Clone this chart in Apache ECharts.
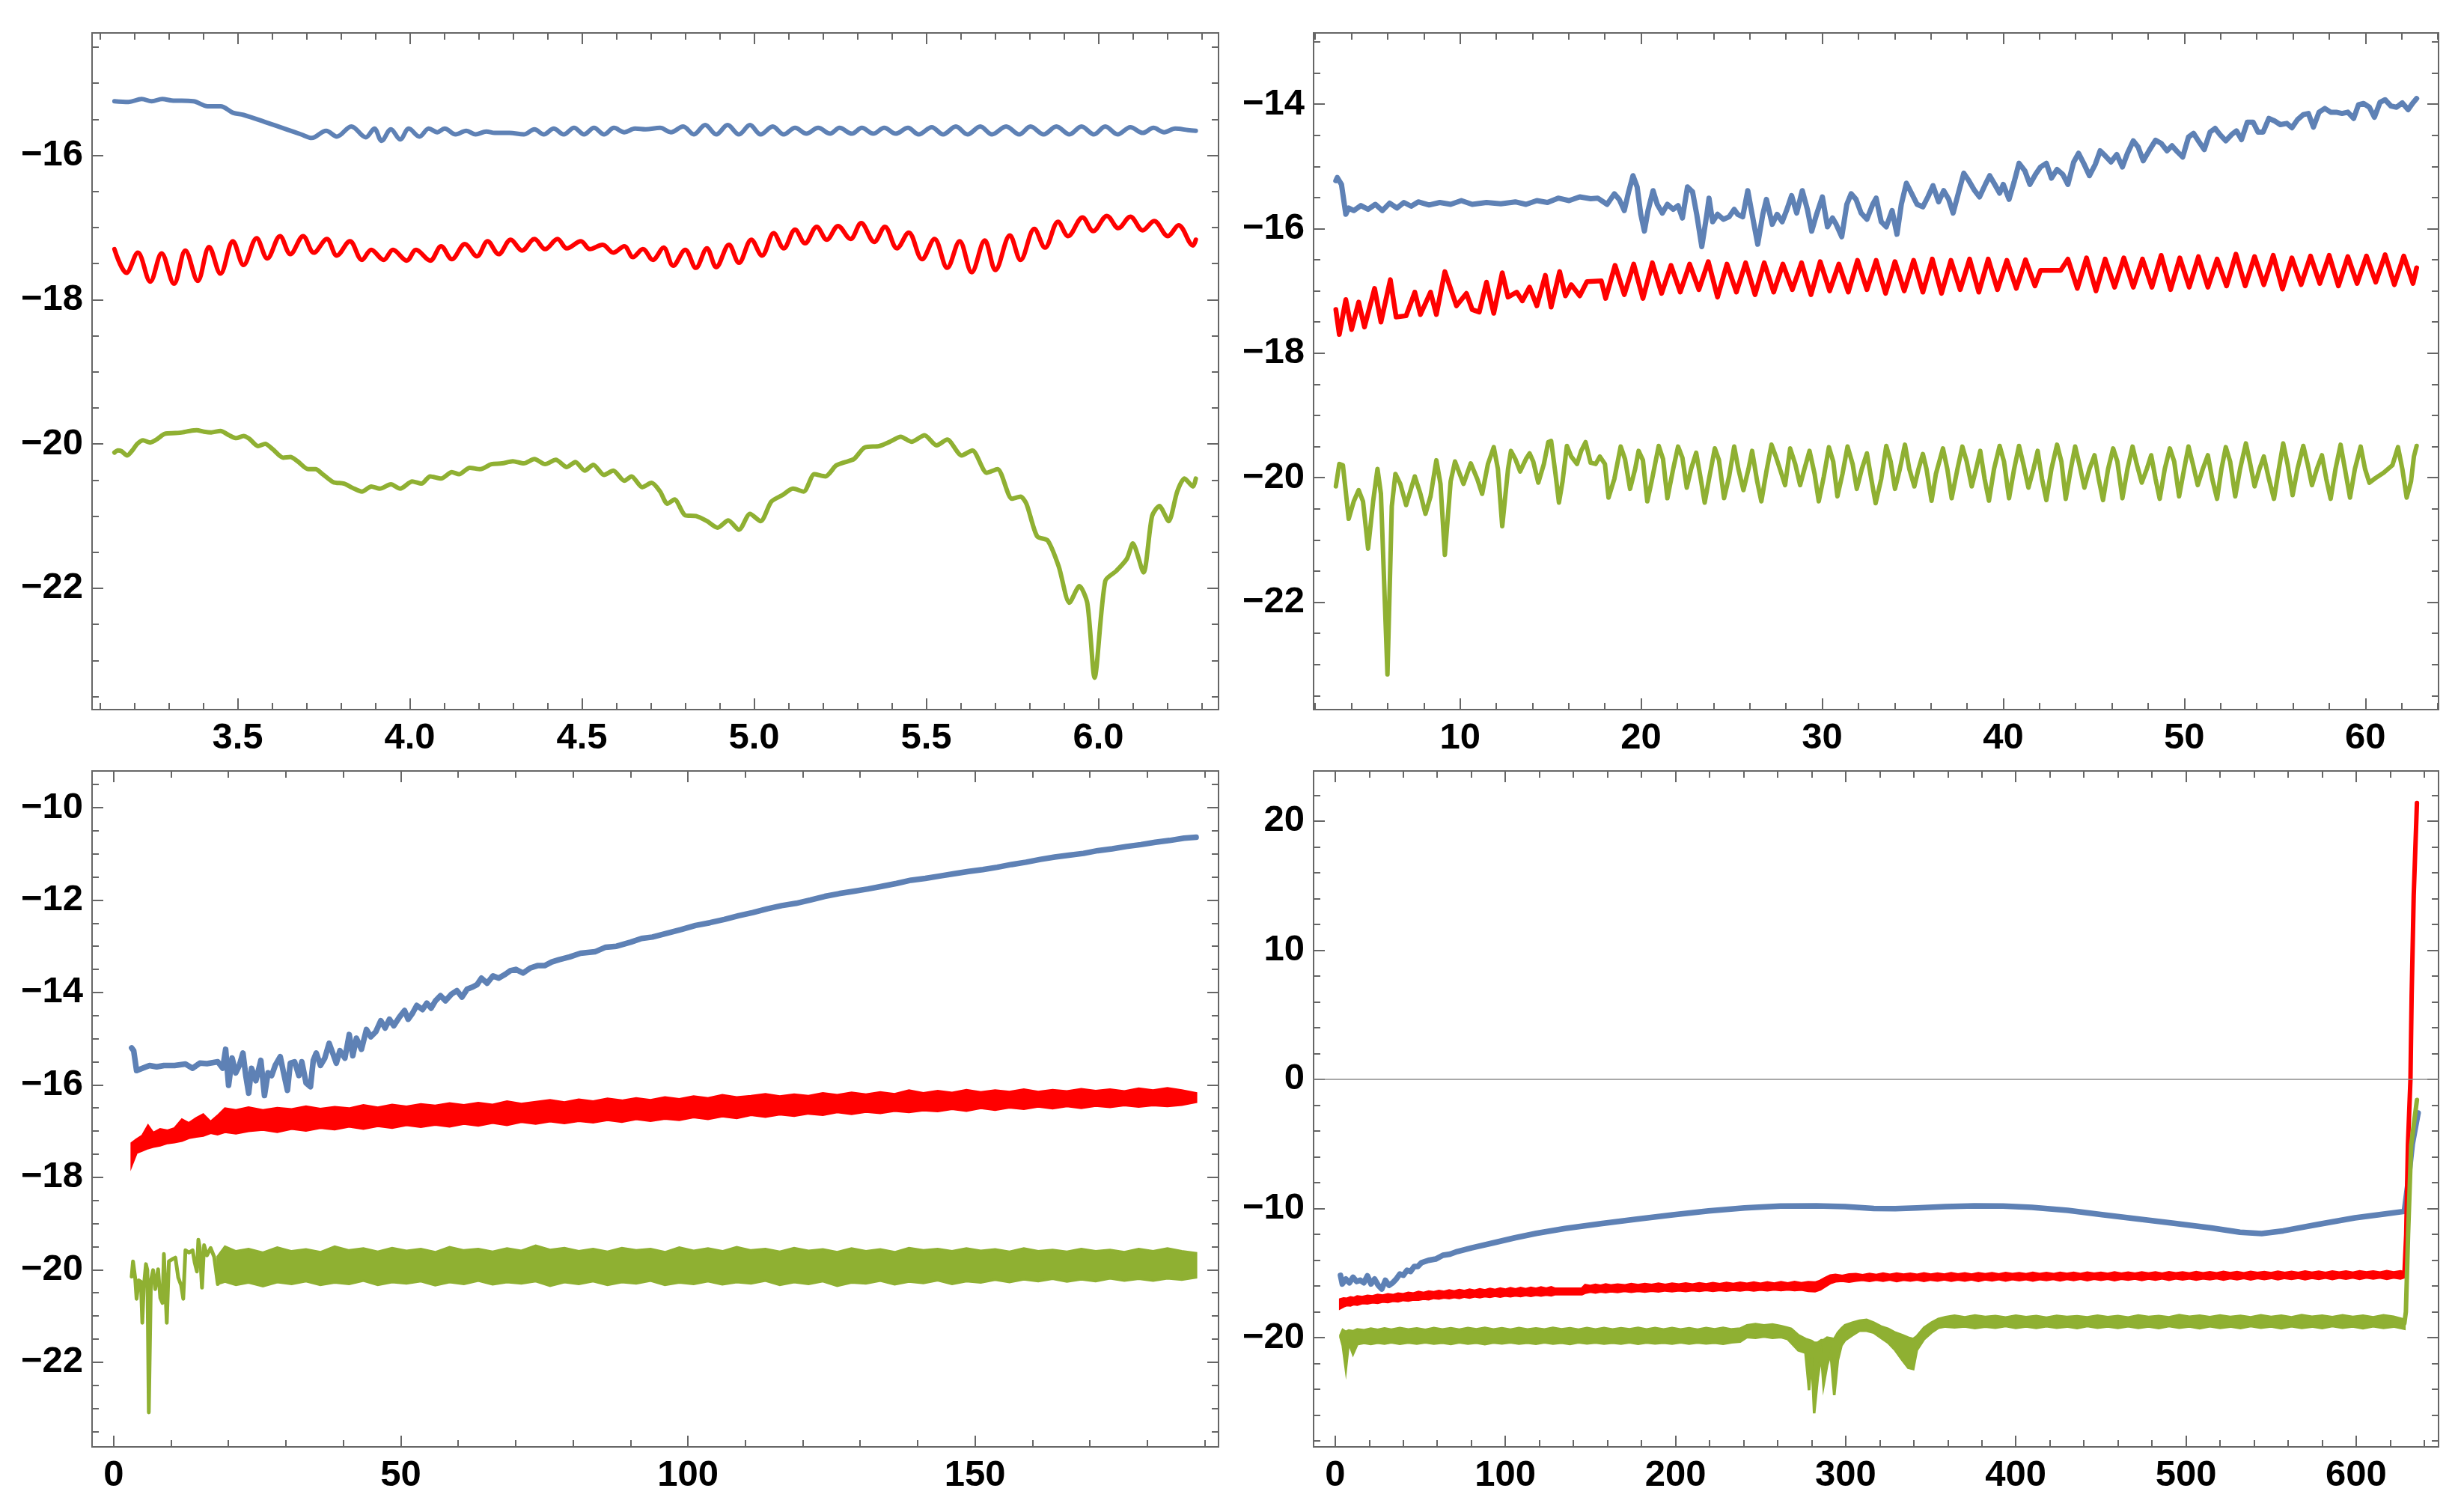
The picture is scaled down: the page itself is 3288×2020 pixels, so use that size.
<!DOCTYPE html>
<html><head><meta charset="utf-8">
<script src="https://cdn.jsdelivr.net/npm/echarts@6/dist/echarts.min.js"></script>
<style>html,body{margin:0;padding:0;background:#fff}#c{width:3288px;height:2020px}</style>
</head><body><div id="c"></div><script>
// ---------- tick labels ----------
const tlXTicks = [3.5, 4.0, 4.5, 5.0, 5.5, 6.0];
const tlYTicks = [-22, -20, -18, -16];
const trXTicks = [10, 20, 30, 40, 50, 60];
const trYTicks = [-22, -20, -18, -16, -14];
const blXTicks = [0, 50, 100, 150];
const blYTicks = [-22, -20, -18, -16, -14, -12, -10];
const brXTicks = [0, 100, 200, 300, 400, 500, 600];
const brYTicks = [-20, -10, 0, 10, 20];

// ---------- top-left panel ----------
const tlBlue = [[3.142,-15.25],[3.183,-15.26],[3.221,-15.22],[3.250,-15.25],[3.281,-15.22],[3.308,-15.24],[3.371,-15.25],[3.413,-15.32],[3.450,-15.32],[3.486,-15.41],[3.517,-15.44],[3.580,-15.54],[3.642,-15.64],[3.684,-15.71],[3.715,-15.76],[3.757,-15.66],[3.788,-15.74],[3.830,-15.60],[3.872,-15.75],[3.897,-15.63],[3.918,-15.80],[3.945,-15.64],[3.972,-15.78],[3.997,-15.63],[4.028,-15.74],[4.055,-15.63],[4.080,-15.68],[4.101,-15.63],[4.133,-15.71],[4.164,-15.66],[4.191,-15.71],[4.222,-15.67],[4.247,-15.69],[4.289,-15.69],[4.331,-15.71],[4.362,-15.64],[4.389,-15.71],[4.418,-15.63],[4.447,-15.71],[4.477,-15.62],[4.506,-15.71],[4.535,-15.62],[4.564,-15.71],[4.593,-15.62],[4.623,-15.68],[4.654,-15.63],[4.685,-15.64],[4.727,-15.62],[4.758,-15.68],[4.794,-15.60],[4.825,-15.71],[4.858,-15.58],[4.890,-15.71],[4.923,-15.58],[4.956,-15.71],[4.988,-15.58],[5.019,-15.71],[5.054,-15.60],[5.086,-15.71],[5.119,-15.62],[5.152,-15.70],[5.186,-15.62],[5.221,-15.70],[5.248,-15.62],[5.284,-15.70],[5.313,-15.62],[5.346,-15.70],[5.378,-15.62],[5.411,-15.70],[5.447,-15.62],[5.478,-15.71],[5.516,-15.61],[5.549,-15.71],[5.586,-15.60],[5.620,-15.71],[5.657,-15.60],[5.691,-15.71],[5.732,-15.60],[5.770,-15.71],[5.803,-15.60],[5.841,-15.71],[5.878,-15.60],[5.916,-15.71],[5.951,-15.60],[5.987,-15.71],[6.020,-15.60],[6.056,-15.71],[6.093,-15.61],[6.129,-15.69],[6.160,-15.62],[6.191,-15.68],[6.223,-15.63],[6.260,-15.65],[6.283,-15.66]];
const tlRed = [[3.142,-17.30],[3.177,-17.63],[3.210,-17.35],[3.246,-17.75],[3.279,-17.36],[3.315,-17.78],[3.348,-17.32],[3.384,-17.74],[3.417,-17.27],[3.450,-17.64],[3.486,-17.19],[3.517,-17.52],[3.555,-17.15],[3.586,-17.43],[3.623,-17.12],[3.653,-17.37],[3.690,-17.12],[3.721,-17.35],[3.759,-17.16],[3.788,-17.39],[3.826,-17.19],[3.861,-17.45],[3.888,-17.31],[3.924,-17.45],[3.951,-17.31],[3.991,-17.46],[4.018,-17.31],[4.059,-17.46],[4.091,-17.26],[4.122,-17.44],[4.160,-17.23],[4.195,-17.40],[4.226,-17.19],[4.258,-17.37],[4.293,-17.17],[4.326,-17.32],[4.362,-17.16],[4.393,-17.30],[4.429,-17.16],[4.456,-17.29],[4.497,-17.19],[4.523,-17.30],[4.560,-17.24],[4.591,-17.35],[4.623,-17.26],[4.648,-17.41],[4.677,-17.30],[4.706,-17.45],[4.737,-17.28],[4.765,-17.53],[4.800,-17.31],[4.831,-17.56],[4.863,-17.29],[4.890,-17.55],[4.927,-17.24],[4.956,-17.49],[4.992,-17.17],[5.023,-17.39],[5.057,-17.08],[5.086,-17.29],[5.119,-17.03],[5.148,-17.22],[5.182,-16.99],[5.211,-17.17],[5.244,-16.98],[5.280,-17.16],[5.311,-16.94],[5.349,-17.20],[5.380,-16.99],[5.415,-17.29],[5.449,-17.07],[5.488,-17.44],[5.524,-17.16],[5.561,-17.56],[5.597,-17.19],[5.632,-17.62],[5.670,-17.18],[5.701,-17.59],[5.743,-17.11],[5.774,-17.45],[5.814,-17.02],[5.845,-17.28],[5.883,-16.92],[5.912,-17.12],[5.954,-16.86],[5.985,-17.05],[6.025,-16.84],[6.058,-17.01],[6.093,-16.85],[6.129,-17.04],[6.162,-16.91],[6.202,-17.12],[6.233,-16.97],[6.275,-17.25],[6.283,-17.17]];
const tlGreen = [[3.142,-20.12],[3.152,-20.09],[3.162,-20.10],[3.179,-20.16],[3.194,-20.09],[3.208,-20.00],[3.225,-19.95],[3.246,-19.98],[3.267,-19.93],[3.288,-19.86],[3.319,-19.85],[3.340,-19.84],[3.361,-19.82],[3.381,-19.81],[3.402,-19.83],[3.423,-19.84],[3.450,-19.82],[3.475,-19.88],[3.496,-19.92],[3.517,-19.89],[3.534,-19.93],[3.559,-20.03],[3.580,-20.00],[3.601,-20.07],[3.632,-20.19],[3.653,-20.18],[3.674,-20.24],[3.705,-20.35],[3.726,-20.35],[3.747,-20.42],[3.778,-20.53],[3.809,-20.55],[3.834,-20.61],[3.861,-20.66],[3.888,-20.59],[3.913,-20.62],[3.945,-20.56],[3.972,-20.62],[4.007,-20.52],[4.034,-20.55],[4.059,-20.45],[4.091,-20.48],[4.122,-20.39],[4.143,-20.42],[4.174,-20.33],[4.205,-20.35],[4.237,-20.28],[4.268,-20.27],[4.299,-20.24],[4.331,-20.27],[4.362,-20.21],[4.393,-20.28],[4.424,-20.22],[4.456,-20.32],[4.481,-20.25],[4.508,-20.37],[4.533,-20.29],[4.564,-20.43],[4.591,-20.37],[4.623,-20.51],[4.644,-20.45],[4.675,-20.60],[4.702,-20.54],[4.727,-20.66],[4.748,-20.83],[4.769,-20.77],[4.800,-20.99],[4.831,-21.00],[4.863,-21.07],[4.894,-21.16],[4.925,-21.06],[4.956,-21.19],[4.988,-20.97],[5.019,-21.07],[5.050,-20.80],[5.082,-20.71],[5.113,-20.62],[5.144,-20.66],[5.175,-20.42],[5.207,-20.45],[5.238,-20.30],[5.259,-20.26],[5.290,-20.21],[5.321,-20.05],[5.363,-20.03],[5.394,-19.97],[5.426,-19.90],[5.457,-19.97],[5.495,-19.88],[5.530,-20.02],[5.561,-19.94],[5.603,-20.16],[5.634,-20.09],[5.676,-20.40],[5.707,-20.35],[5.749,-20.76],[5.774,-20.73],[5.791,-20.83],[5.822,-21.28],[5.853,-21.34],[5.885,-21.70],[5.916,-22.20],[5.945,-21.97],[5.968,-22.21],[5.989,-23.24],[6.020,-21.90],[6.052,-21.76],[6.083,-21.59],[6.100,-21.38],[6.131,-21.78],[6.156,-21.00],[6.177,-20.86],[6.204,-21.07],[6.229,-20.66],[6.250,-20.48],[6.275,-20.59],[6.283,-20.48]];

// ---------- top-right panel ----------
const trBlue = [[3.14,-15.23],[3.22,-15.18],[3.45,-15.29],[3.69,-15.77],[3.85,-15.67],[4.13,-15.71],[4.52,-15.63],[4.92,-15.69],[5.32,-15.61],[5.71,-15.71],[6.11,-15.59],[6.51,-15.67],[6.90,-15.58],[7.30,-15.64],[7.69,-15.57],[8.29,-15.62],[8.88,-15.58],[9.48,-15.61],[10.07,-15.55],[10.67,-15.61],[11.46,-15.58],[12.25,-15.60],[13.05,-15.57],[13.64,-15.61],[14.24,-15.55],[14.83,-15.58],[15.42,-15.51],[16.02,-15.55],[16.61,-15.49],[17.21,-15.52],[17.60,-15.51],[18.12,-15.61],[18.52,-15.44],[18.79,-15.53],[19.07,-15.71],[19.31,-15.41],[19.55,-15.15],[19.78,-15.33],[19.98,-15.77],[20.18,-16.04],[20.38,-15.71],[20.66,-15.39],[20.89,-15.61],[21.17,-15.75],[21.45,-15.61],[21.77,-15.69],[22.04,-15.63],[22.28,-15.83],[22.56,-15.33],[22.84,-15.41],[23.07,-15.77],[23.35,-16.29],[23.63,-15.77],[23.75,-15.51],[23.95,-15.89],[24.22,-15.77],[24.54,-15.85],[24.86,-15.81],[25.14,-15.69],[25.33,-15.77],[25.61,-15.81],[25.89,-15.39],[26.13,-15.77],[26.44,-16.25],[26.72,-15.77],[26.92,-15.53],[27.24,-15.93],[27.51,-15.77],[27.79,-15.89],[28.03,-15.71],[28.31,-15.47],[28.59,-15.75],[28.90,-15.39],[29.18,-15.69],[29.42,-16.04],[29.69,-15.77],[30.01,-15.49],[30.29,-15.97],[30.57,-15.83],[30.77,-15.93],[31.08,-16.13],[31.36,-15.61],[31.60,-15.44],[31.87,-15.53],[32.15,-15.75],[32.47,-15.85],[32.79,-15.61],[32.98,-15.51],[33.26,-15.89],[33.54,-15.97],[33.86,-15.71],[34.13,-16.09],[34.37,-15.61],[34.65,-15.27],[34.93,-15.43],[35.24,-15.61],[35.56,-15.65],[35.84,-15.49],[36.12,-15.31],[36.43,-15.57],[36.71,-15.39],[36.99,-15.53],[37.23,-15.75],[37.54,-15.41],[37.82,-15.11],[38.10,-15.23],[38.42,-15.39],[38.69,-15.49],[39.01,-15.29],[39.25,-15.15],[39.53,-15.29],[39.80,-15.43],[40.00,-15.29],[40.32,-15.53],[40.60,-15.25],[40.87,-14.95],[41.19,-15.07],[41.47,-15.29],[41.78,-15.13],[42.06,-15.01],[42.38,-14.95],[42.66,-15.19],[42.97,-15.05],[43.29,-15.13],[43.57,-15.29],[43.89,-14.93],[44.16,-14.79],[44.44,-14.95],[44.76,-15.15],[45.08,-14.97],[45.35,-14.75],[45.63,-14.83],[45.95,-14.93],[46.27,-14.81],[46.58,-15.01],[46.86,-14.79],[47.18,-14.59],[47.45,-14.69],[47.73,-14.91],[48.05,-14.75],[48.41,-14.58],[48.72,-14.63],[49.04,-14.75],[49.32,-14.67],[49.63,-14.77],[49.91,-14.85],[50.23,-14.53],[50.51,-14.47],[50.82,-14.61],[51.10,-14.73],[51.42,-14.45],[51.70,-14.39],[51.97,-14.49],[52.29,-14.59],[52.61,-14.49],[52.88,-14.43],[53.16,-14.57],[53.48,-14.29],[53.80,-14.29],[54.07,-14.45],[54.35,-14.45],[54.67,-14.23],[54.98,-14.27],[55.30,-14.33],[55.66,-14.31],[55.94,-14.38],[56.25,-14.25],[56.57,-14.17],[56.85,-14.15],[57.13,-14.37],[57.44,-14.13],[57.76,-14.07],[58.08,-14.13],[58.39,-14.13],[58.71,-14.15],[59.03,-14.13],[59.35,-14.23],[59.62,-14.01],[59.90,-13.99],[60.22,-14.05],[60.50,-14.21],[60.81,-13.97],[61.09,-13.93],[61.41,-14.03],[61.72,-14.05],[62.04,-13.98],[62.36,-14.09],[62.60,-13.99],[62.83,-13.91]];
const trRed = [[3.14,-17.30],[3.33,-17.70],[3.69,-17.14],[4.01,-17.62],[4.40,-17.18],[4.72,-17.58],[5.28,-16.96],[5.63,-17.50],[6.15,-16.82],[6.47,-17.42],[7.02,-17.40],[7.50,-17.02],[7.81,-17.38],[8.37,-17.02],[8.69,-17.38],[9.16,-16.69],[9.80,-17.24],[10.35,-17.04],[10.67,-17.30],[11.06,-17.34],[11.46,-16.86],[11.86,-17.36],[12.33,-16.71],[12.65,-17.10],[13.13,-17.02],[13.44,-17.16],[13.84,-16.94],[14.24,-17.24],[14.71,-16.75],[15.03,-17.26],[15.50,-16.69],[15.82,-17.08],[16.14,-16.90],[16.61,-17.08],[17.01,-16.85],[17.80,-16.84],[18.04,-17.12],[18.56,-16.59],[19.07,-17.06],[19.59,-16.57],[20.10,-17.12],[20.62,-16.55],[21.13,-17.04],[21.65,-16.59],[22.16,-17.02],[22.68,-16.57],[23.19,-16.98],[23.71,-16.53],[24.22,-17.10],[24.74,-16.57],[25.26,-17.02],[25.77,-16.55],[26.29,-17.06],[26.80,-16.55],[27.32,-17.02],[27.83,-16.57],[28.35,-16.98],[28.86,-16.55],[29.38,-17.06],[29.89,-16.53],[30.41,-17.00],[30.92,-16.57],[31.44,-17.02],[31.95,-16.51],[32.47,-16.98],[32.98,-16.51],[33.50,-17.04],[34.02,-16.53],[34.53,-17.00],[35.05,-16.51],[35.56,-17.02],[36.08,-16.49],[36.59,-17.04],[37.11,-16.51],[37.62,-16.98],[38.14,-16.49],[38.65,-17.02],[39.17,-16.49],[39.68,-16.98],[40.20,-16.51],[40.72,-16.96],[41.23,-16.50],[41.75,-16.92],[42.06,-16.67],[43.17,-16.67],[43.57,-16.49],[44.09,-16.96],[44.60,-16.47],[45.12,-17.00],[45.63,-16.49],[46.15,-16.94],[46.66,-16.47],[47.18,-16.94],[47.69,-16.49],[48.21,-16.94],[48.72,-16.43],[49.24,-16.98],[49.75,-16.47],[50.27,-16.94],[50.78,-16.45],[51.30,-16.94],[51.81,-16.49],[52.33,-16.92],[52.85,-16.41],[53.36,-16.92],[53.88,-16.45],[54.39,-16.90],[54.91,-16.43],[55.42,-16.97],[55.94,-16.47],[56.45,-16.90],[56.97,-16.44],[57.48,-16.88],[58.00,-16.43],[58.51,-16.92],[59.03,-16.45],[59.54,-16.88],[60.06,-16.44],[60.57,-16.86],[61.09,-16.42],[61.60,-16.90],[62.12,-16.44],[62.63,-16.88],[62.83,-16.63]];
const trGreen = [[3.14,-20.14],[3.33,-19.78],[3.53,-19.80],[3.85,-20.66],[4.13,-20.38],[4.40,-20.20],[4.64,-20.38],[4.92,-21.14],[5.20,-20.38],[5.44,-19.86],[5.63,-20.26],[5.99,-23.16],[6.23,-20.46],[6.43,-19.94],[6.70,-20.10],[7.02,-20.44],[7.50,-19.98],[7.81,-20.26],[8.09,-20.58],[8.37,-20.30],[8.69,-19.72],[8.92,-20.10],[9.16,-21.24],[9.48,-20.06],[9.72,-19.74],[10.19,-20.10],[10.59,-19.77],[10.95,-20.02],[11.22,-20.26],[11.54,-19.78],[11.86,-19.51],[12.09,-19.86],[12.33,-20.78],[12.65,-19.86],[12.81,-19.57],[13.05,-19.70],[13.32,-19.90],[13.64,-19.70],[13.84,-19.61],[14.04,-19.74],[14.32,-20.08],[14.63,-19.78],[14.87,-19.43],[15.03,-19.41],[15.27,-19.94],[15.46,-20.40],[15.66,-20.06],[15.90,-19.49],[16.14,-19.66],[16.46,-19.78],[16.69,-19.57],[16.93,-19.43],[17.21,-19.76],[17.49,-19.78],[17.72,-19.66],[18.00,-19.78],[18.20,-20.32],[18.52,-20.02],[18.87,-19.50],[19.11,-19.70],[19.39,-20.18],[19.67,-19.86],[19.86,-19.57],[20.10,-19.72],[20.34,-20.38],[20.58,-20.06],[20.97,-19.49],[21.21,-19.70],[21.45,-20.33],[21.77,-19.86],[22.04,-19.50],[22.28,-19.68],[22.52,-20.16],[22.76,-19.86],[23.04,-19.60],[23.27,-19.98],[23.51,-20.40],[23.75,-20.02],[24.07,-19.53],[24.30,-19.72],[24.58,-20.33],[24.86,-19.98],[25.14,-19.50],[25.37,-19.86],[25.65,-20.20],[25.93,-19.86],[26.13,-19.57],[26.41,-20.06],[26.64,-20.38],[26.92,-19.90],[27.20,-19.47],[27.44,-19.66],[27.71,-19.90],[27.95,-20.12],[28.23,-19.53],[28.51,-19.78],[28.78,-20.12],[29.02,-19.86],[29.30,-19.57],[29.58,-19.94],[29.81,-20.38],[30.09,-19.98],[30.37,-19.51],[30.61,-19.74],[30.84,-20.30],[31.12,-19.94],[31.40,-19.50],[31.68,-19.78],[31.91,-20.18],[32.19,-19.86],[32.47,-19.61],[32.71,-20.02],[32.95,-20.41],[33.26,-20.02],[33.54,-19.49],[33.78,-19.74],[34.02,-20.18],[34.29,-19.86],[34.57,-19.47],[34.81,-19.86],[35.09,-20.14],[35.32,-19.86],[35.56,-19.62],[35.76,-19.86],[36.04,-20.37],[36.28,-19.94],[36.67,-19.53],[36.91,-19.86],[37.15,-20.33],[37.47,-19.86],[37.74,-19.50],[37.98,-19.74],[38.26,-20.14],[38.50,-19.86],[38.73,-19.57],[38.97,-20.02],[39.21,-20.37],[39.49,-19.86],[39.80,-19.49],[40.04,-19.74],[40.32,-20.33],[40.60,-19.86],[40.87,-19.49],[41.11,-19.78],[41.39,-20.16],[41.67,-19.86],[41.90,-19.57],[42.14,-20.02],[42.38,-20.36],[42.66,-19.86],[42.97,-19.47],[43.21,-19.74],[43.45,-20.34],[43.73,-19.86],[43.97,-19.50],[44.20,-19.78],[44.48,-20.16],[44.76,-19.86],[45.04,-19.64],[45.27,-20.02],[45.51,-20.36],[45.79,-19.86],[46.07,-19.53],[46.30,-19.74],[46.58,-20.33],[46.86,-19.86],[47.14,-19.50],[47.37,-19.78],[47.65,-20.08],[47.93,-19.86],[48.17,-19.64],[48.41,-20.02],[48.64,-20.34],[48.92,-19.86],[49.20,-19.53],[49.44,-19.74],[49.71,-20.30],[49.99,-19.86],[50.23,-19.50],[50.47,-19.78],[50.74,-20.12],[51.02,-19.86],[51.30,-19.64],[51.54,-20.02],[51.81,-20.34],[52.05,-19.86],[52.29,-19.51],[52.53,-19.74],[52.81,-20.30],[53.08,-19.86],[53.40,-19.45],[53.64,-19.78],[53.88,-20.14],[54.15,-19.86],[54.39,-19.66],[54.67,-20.02],[54.95,-20.34],[55.22,-19.86],[55.46,-19.45],[55.70,-19.78],[55.98,-20.28],[56.25,-19.86],[56.57,-19.49],[56.81,-19.78],[57.05,-20.12],[57.32,-19.86],[57.60,-19.64],[57.84,-20.02],[58.08,-20.34],[58.35,-19.86],[58.63,-19.47],[58.87,-19.86],[59.15,-20.32],[59.42,-19.86],[59.74,-19.50],[59.98,-19.86],[60.22,-20.08],[60.54,-20.01],[61.01,-19.92],[61.49,-19.80],[61.80,-19.51],[62.04,-19.86],[62.28,-20.32],[62.52,-20.06],[62.68,-19.66],[62.83,-19.49]];

// ---------- bottom-left panel ----------
const blBlue = [[3.14,-15.20],[3.50,-15.26],[4.00,-15.69],[5.00,-15.64],[6.25,-15.58],[7.50,-15.61],[8.76,-15.58],[10.63,-15.58],[12.51,-15.55],[13.76,-15.64],[15.01,-15.53],[16.26,-15.54],[18.14,-15.50],[19.01,-15.64],[19.51,-15.23],[20.02,-16.01],[20.64,-15.42],[21.27,-15.74],[21.89,-15.58],[22.52,-15.31],[23.02,-15.80],[23.52,-16.18],[24.02,-15.64],[24.77,-15.91],[25.64,-15.47],[26.27,-16.23],[26.89,-15.74],[27.52,-15.80],[28.14,-15.58],[29.02,-15.39],[29.52,-15.69],[30.27,-16.12],[30.77,-15.53],[31.52,-15.50],[32.27,-15.80],[32.77,-15.50],[33.52,-15.96],[34.28,-16.04],[34.77,-15.47],[35.28,-15.31],[36.03,-15.58],[36.78,-15.42],[37.53,-15.10],[38.15,-15.31],[38.78,-15.53],[39.40,-15.26],[40.28,-15.42],[41.03,-14.91],[41.65,-15.37],[42.28,-14.99],[43.16,-15.23],[44.03,-14.80],[44.78,-14.96],[45.66,-14.85],[46.53,-14.61],[47.28,-14.77],[48.03,-14.58],[48.79,-14.72],[49.79,-14.53],[50.66,-14.39],[51.29,-14.58],[52.04,-14.45],[52.79,-14.28],[53.79,-14.37],[54.54,-14.23],[55.29,-14.34],[56.04,-14.18],[56.92,-14.07],[57.79,-14.18],[58.79,-14.04],[59.79,-13.96],[60.67,-14.10],[61.55,-13.93],[62.55,-13.88],[63.30,-13.83],[64.05,-13.69],[65.05,-13.80],[66.05,-13.64],[67.05,-13.69],[68.17,-13.61],[69.05,-13.53],[70.05,-13.50],[71.30,-13.58],[72.55,-13.47],[73.80,-13.42],[75.05,-13.42],[76.30,-13.34],[77.56,-13.29],[79.43,-13.23],[81.31,-13.15],[83.81,-13.12],[85.69,-13.02],[87.57,-13.00],[90.07,-12.91],[91.94,-12.83],[93.82,-12.80],[96.32,-12.72],[98.82,-12.64],[101.33,-12.55],[103.83,-12.49],[106.33,-12.42],[108.83,-12.34],[111.33,-12.27],[113.83,-12.19],[116.33,-12.12],[118.84,-12.07],[121.34,-12.00],[123.84,-11.92],[126.34,-11.86],[128.84,-11.81],[131.35,-11.76],[133.85,-11.70],[136.35,-11.64],[138.85,-11.57],[141.35,-11.53],[143.85,-11.48],[146.36,-11.43],[148.86,-11.38],[151.36,-11.34],[153.86,-11.29],[156.36,-11.23],[158.87,-11.18],[161.37,-11.12],[163.87,-11.07],[166.37,-11.03],[168.87,-10.99],[171.38,-10.93],[173.88,-10.89],[176.38,-10.84],[178.88,-10.80],[181.38,-10.75],[183.88,-10.71],[186.39,-10.66],[188.50,-10.64]];
// noisy bands: [x, upper, lower]
const blRedBand = [[3.14,-17.26,-17.74],[4.0,-17.18,-17.47],[5.0,-17.10,-17.42],[6.0,-16.88,-17.37],[6.9,-17.04,-17.34],[8.1,-16.96,-17.31],[9.4,-16.99,-17.26],[10.6,-16.94,-17.24],[11.9,-16.75,-17.21],[13.1,-16.83,-17.15],[14.4,-16.72,-17.12],[15.6,-16.64,-17.10],[16.9,-16.80,-17.04],[18.1,-16.67,-17.07],[19.4,-16.51,-17.02],[21.3,-16.55,-17.05],[23.5,-16.49,-17.00],[26,-16.55,-16.97],[28.5,-16.50,-17.02],[31,-16.53,-16.95],[33.5,-16.47,-16.99],[36,-16.52,-16.93],[38.5,-16.48,-16.96],[41,-16.51,-16.90],[43.5,-16.44,-16.95],[46,-16.49,-16.89],[48.5,-16.43,-16.93],[51,-16.47,-16.87],[53.5,-16.42,-16.91],[56,-16.45,-16.86],[58.5,-16.40,-16.90],[61,-16.44,-16.84],[63.5,-16.39,-16.88],[66,-16.43,-16.82],[68.5,-16.36,-16.87],[71,-16.41,-16.80],[73.5,-16.37,-16.84],[76,-16.33,-16.79],[78.5,-16.38,-16.83],[81,-16.32,-16.78],[83.5,-16.36,-16.81],[86,-16.30,-16.76],[88.5,-16.34,-16.80],[91,-16.29,-16.74],[93.5,-16.33,-16.78],[96,-16.27,-16.73],[98.5,-16.31,-16.76],[101,-16.25,-16.70],[103.5,-16.29,-16.74],[106,-16.22,-16.68],[108.5,-16.27,-16.72],[111,-16.24,-16.65],[113.5,-16.20,-16.69],[116,-16.25,-16.64],[118.5,-16.21,-16.67],[121,-16.24,-16.62],[123.5,-16.18,-16.65],[126,-16.22,-16.59],[128.5,-16.17,-16.63],[131,-16.21,-16.58],[133.5,-16.16,-16.61],[136,-16.20,-16.56],[138.5,-16.12,-16.59],[141,-16.18,-16.55],[143.5,-16.13,-16.57],[146,-16.17,-16.52],[148.5,-16.11,-16.56],[151,-16.16,-16.50],[153.5,-16.12,-16.54],[156,-16.15,-16.49],[158.5,-16.10,-16.52],[161,-16.15,-16.47],[163.5,-16.11,-16.51],[166,-16.14,-16.46],[168.5,-16.09,-16.50],[171,-16.13,-16.45],[173.5,-16.10,-16.48],[176,-16.14,-16.44],[178.5,-16.08,-16.47],[181,-16.12,-16.44],[183.5,-16.07,-16.46],[186,-16.12,-16.43],[188.5,-16.18,-16.37]];
const blGreenEarly = [[3.14,-20.15],[3.38,-19.82],[3.75,-20.17],[4.00,-20.63],[4.38,-20.23],[4.75,-20.26],[5.00,-21.15],[5.25,-20.39],[5.63,-19.88],[5.88,-20.01],[6.13,-23.09],[6.50,-20.23],[6.88,-20.01],[7.25,-20.42],[7.75,-19.99],[8.13,-20.61],[8.51,-20.72],[8.76,-19.66],[9.26,-21.15],[9.63,-19.82],[10.26,-19.77],[10.76,-19.74],[11.26,-20.17],[11.76,-20.34],[12.13,-20.63],[12.51,-19.58],[13.13,-19.63],[13.76,-19.58],[14.13,-19.85],[14.51,-20.04],[14.76,-19.35],[15.01,-19.53],[15.39,-20.39],[15.76,-19.47],[16.26,-19.69],[16.89,-19.53],[17.51,-19.72],[18.14,-20.31]];
const blGreenBand = [[18.1,-19.72,-20.31],[19.4,-19.50,-20.26],[21.3,-19.60,-20.33],[23.5,-19.55,-20.28],[26,-19.63,-20.36],[28.5,-19.52,-20.27],[31,-19.60,-20.31],[33.5,-19.56,-20.25],[36,-19.62,-20.33],[38.5,-19.50,-20.28],[41,-19.58,-20.31],[43.5,-19.54,-20.24],[46,-19.61,-20.33],[48.5,-19.53,-20.27],[51,-19.59,-20.30],[53.5,-19.55,-20.25],[56,-19.62,-20.34],[58.5,-19.51,-20.27],[61,-19.58,-20.31],[63.5,-19.55,-20.24],[66,-19.61,-20.32],[68.5,-19.54,-20.27],[71,-19.59,-20.30],[73.5,-19.48,-20.25],[76,-19.57,-20.35],[78.5,-19.53,-20.27],[81,-19.60,-20.31],[83.5,-19.55,-20.25],[86,-19.61,-20.33],[88.5,-19.53,-20.27],[91,-19.58,-20.30],[93.5,-19.55,-20.24],[96,-19.62,-20.33],[98.5,-19.52,-20.28],[101,-19.59,-20.31],[103.5,-19.54,-20.25],[106,-19.60,-20.32],[108.5,-19.51,-20.27],[111,-19.58,-20.30],[113.5,-19.55,-20.24],[116,-19.61,-20.33],[118.5,-19.53,-20.27],[121,-19.59,-20.31],[123.5,-19.56,-20.25],[126,-19.62,-20.35],[128.5,-19.54,-20.28],[131,-19.60,-20.30],[133.5,-19.56,-20.24],[136,-19.62,-20.32],[138.5,-19.53,-20.26],[141,-19.58,-20.29],[143.5,-19.55,-20.23],[146,-19.60,-20.31],[148.5,-19.54,-20.25],[151,-19.59,-20.28],[153.5,-19.56,-20.22],[156,-19.61,-20.27],[158.5,-19.54,-20.21],[161,-19.60,-20.25],[163.5,-19.57,-20.20],[166,-19.61,-20.26],[168.5,-19.55,-20.21],[171,-19.60,-20.25],[173.5,-19.57,-20.19],[176,-19.62,-20.24],[178.5,-19.55,-20.20],[181,-19.60,-20.24],[183.5,-19.54,-20.19],[186,-19.60,-20.22],[188.5,-19.64,-20.17]];

// ---------- bottom-right panel ----------
const brBlue = [[3.14,-15.17],[4.22,-15.84],[6.33,-15.46],[8.44,-15.75],[10.55,-15.32],[12.66,-15.65],[14.77,-15.55],[16.88,-15.75],[18.99,-15.21],[21.10,-15.84],[23.21,-15.46],[25.32,-15.94],[27.43,-16.23],[29.54,-15.55],[31.65,-15.94],[33.76,-15.75],[35.87,-15.46],[37.98,-15.07],[40.09,-15.17],[42.20,-14.78],[44.31,-14.88],[46.42,-14.49],[48.53,-14.49],[50.64,-14.20],[54.86,-14.01],[59.09,-13.91],[63.31,-13.62],[67.53,-13.53],[71.75,-13.33],[80.19,-13.04],[92.85,-12.66],[105.51,-12.27],[118.17,-11.92],[135.05,-11.55],[156.15,-11.17],[177.25,-10.82],[198.36,-10.49],[219.46,-10.18],[240.56,-9.95],[261.66,-9.81],[282.76,-9.79],[299.64,-9.85],[316.52,-9.99],[329.18,-10.01],[341.84,-9.95],[358.72,-9.85],[375.60,-9.79],[392.49,-9.81],[409.37,-9.91],[430.47,-10.14],[451.57,-10.49],[472.67,-10.82],[493.77,-11.15],[514.88,-11.50],[531.76,-11.84],[544.42,-11.94],[557.08,-11.73],[578.18,-11.21],[599.29,-10.72],[616.17,-10.43],[628.3,-10.22],[630.5,-8.0],[633.0,-5.0],[636.4,-2.6]];
const brRedBand = [[3.14,-17.05,-17.68],[5,-16.98,-17.55],[7,-17.00,-17.45],[9,-16.90,-17.48],[11,-16.95,-17.38],[13,-16.82,-17.42],[16,-16.88,-17.30],[19,-16.78,-17.33],[22,-16.82,-17.24],[25,-16.70,-17.28],[28,-16.76,-17.18],[31,-16.66,-17.22],[34,-16.72,-17.12],[37,-16.60,-17.16],[40,-16.66,-17.06],[43,-16.54,-17.10],[46,-16.60,-17.02],[49,-16.48,-17.04],[52,-16.55,-16.96],[55,-16.44,-17.00],[58,-16.50,-16.90],[61,-16.40,-16.95],[64,-16.47,-16.86],[67,-16.36,-16.92],[70,-16.44,-16.83],[73,-16.33,-16.90],[76,-16.41,-16.80],[79,-16.30,-16.87],[82,-16.38,-16.78],[85,-16.27,-16.84],[88,-16.35,-16.76],[91,-16.24,-16.82],[94,-16.32,-16.74],[97,-16.22,-16.80],[100,-16.30,-16.72],[103,-16.18,-16.78],[106,-16.28,-16.70],[109,-16.17,-16.76],[112,-16.26,-16.68],[115,-16.15,-16.74],[118,-16.24,-16.66],[121,-16.13,-16.72],[124,-16.22,-16.64],[127,-16.12,-16.70],[129,-16.22,-16.62],[145,-16.22,-16.62],[147,-15.95,-16.50],[150,-16.02,-16.42],[153,-15.92,-16.48],[156,-16.00,-16.40],[159,-15.90,-16.46],[162,-15.98,-16.38],[166,-15.90,-16.44],[170,-15.97,-16.36],[174,-15.87,-16.42],[178,-15.95,-16.35],[182,-15.86,-16.41],[186,-15.94,-16.34],[190,-15.84,-16.40],[194,-15.93,-16.32],[198,-15.83,-16.38],[202,-15.91,-16.31],[206,-15.82,-16.37],[210,-15.90,-16.30],[214,-15.80,-16.36],[218,-15.89,-16.29],[222,-15.79,-16.35],[226,-15.88,-16.28],[230,-15.78,-16.34],[234,-15.86,-16.27],[238,-15.76,-16.33],[242,-15.85,-16.26],[246,-15.75,-16.32],[250,-15.84,-16.25],[254,-15.74,-16.31],[258,-15.83,-16.24],[262,-15.72,-16.30],[266,-15.82,-16.24],[270,-15.71,-16.29],[274,-15.80,-16.25],[278,-15.72,-16.35],[282,-15.75,-16.38],[285,-15.62,-16.25],[288,-15.40,-16.00],[291,-15.20,-15.75],[294,-15.15,-15.62],[298,-15.24,-15.58],[302,-15.12,-15.64],[306,-15.10,-15.56],[310,-15.18,-15.50],[314,-15.08,-15.58],[318,-15.16,-15.49],[322,-15.06,-15.57],[326,-15.15,-15.48],[330,-15.05,-15.60],[334,-15.14,-15.49],[338,-15.07,-15.56],[342,-15.15,-15.47],[346,-15.04,-15.58],[350,-15.13,-15.48],[354,-15.05,-15.55],[358,-15.14,-15.46],[362,-15.03,-15.57],[366,-15.12,-15.47],[370,-15.04,-15.55],[374,-15.13,-15.46],[378,-15.02,-15.58],[382,-15.11,-15.46],[386,-15.03,-15.54],[390,-15.12,-15.45],[394,-15.01,-15.56],[398,-15.10,-15.45],[402,-15.02,-15.53],[406,-15.11,-15.44],[410,-15.00,-15.55],[414,-15.09,-15.44],[418,-15.01,-15.52],[422,-15.10,-15.43],[426,-14.99,-15.54],[430,-15.08,-15.43],[434,-15.00,-15.51],[438,-15.09,-15.42],[442,-14.98,-15.53],[446,-15.07,-15.42],[450,-14.99,-15.50],[454,-15.08,-15.41],[458,-14.97,-15.52],[462,-15.06,-15.41],[466,-14.98,-15.49],[470,-15.07,-15.40],[474,-14.96,-15.51],[478,-15.05,-15.40],[482,-14.97,-15.48],[486,-15.06,-15.39],[490,-14.95,-15.50],[494,-15.04,-15.39],[498,-14.96,-15.47],[502,-15.05,-15.38],[506,-14.94,-15.49],[510,-15.03,-15.38],[514,-14.95,-15.46],[518,-15.04,-15.37],[522,-14.93,-15.48],[526,-15.02,-15.37],[530,-14.94,-15.45],[534,-15.03,-15.36],[538,-14.92,-15.47],[542,-15.01,-15.36],[546,-14.93,-15.44],[550,-15.02,-15.35],[554,-14.91,-15.46],[558,-15.00,-15.35],[562,-14.92,-15.43],[566,-15.01,-15.34],[570,-14.90,-15.45],[574,-14.99,-15.34],[578,-14.91,-15.42],[582,-15.00,-15.33],[586,-14.89,-15.44],[590,-14.98,-15.33],[594,-14.90,-15.41],[598,-14.99,-15.32],[602,-14.88,-15.43],[606,-14.97,-15.32],[610,-14.89,-15.40],[614,-14.98,-15.31],[618,-14.87,-15.42],[622,-14.96,-15.31],[626,-14.88,-15.39],[628.3,-14.95,-15.30]];
const brRedSpike = [[628.3,-15.2],[629.4,-12.0],[630.4,-5.1],[631.9,0.0],[632.6,6.5],[633.8,14.2],[635.7,21.4]];
const brGreenBand = [[3.14,-19.81,-19.95],[4.5,-19.40,-20.60],[6.3,-19.55,-22.41],[8,-19.45,-20.35],[10.5,-19.50,-21.25],[13,-19.35,-20.50],[17,-19.42,-20.40],[21,-19.30,-20.48],[25,-19.40,-20.38],[29,-19.28,-20.45],[33,-19.38,-20.36],[38,-19.26,-20.47],[43,-19.36,-20.37],[48,-19.28,-20.45],[53,-19.39,-20.35],[58,-19.25,-20.46],[63,-19.37,-20.38],[68,-19.27,-20.48],[73,-19.38,-20.36],[78,-19.26,-20.45],[83,-19.35,-20.38],[88,-19.24,-20.50],[93,-19.36,-20.37],[98,-19.27,-20.44],[103,-19.38,-20.35],[108,-19.25,-20.46],[113,-19.36,-20.38],[118,-19.28,-20.47],[123,-19.37,-20.36],[128,-19.24,-20.45],[133,-19.35,-20.38],[138,-19.27,-20.48],[143,-19.38,-20.36],[148,-19.26,-20.44],[153,-19.36,-20.37],[158,-19.25,-20.46],[163,-19.37,-20.38],[168,-19.27,-20.45],[173,-19.35,-20.36],[178,-19.24,-20.47],[183,-19.36,-20.37],[188,-19.26,-20.44],[193,-19.37,-20.38],[198,-19.25,-20.46],[203,-19.36,-20.36],[208,-19.27,-20.45],[213,-19.38,-20.37],[218,-19.26,-20.44],[223,-19.35,-20.38],[228,-19.24,-20.47],[233,-19.36,-20.36],[238,-19.30,-20.30],[242,-19.05,-19.95],[247,-18.95,-20.00],[252,-19.05,-19.90],[257,-18.98,-20.00],[262,-19.10,-19.95],[265.9,-19.23,-20.10],[268.0,-19.32,-20.39],[272.2,-19.81,-20.97],[276.4,-20.10,-21.16],[278.5,-20.19,-24.06],[280,-20.25,-21.5],[281.5,-20.39,-25.85],[283.6,-20.39,-23.09],[285.7,-20.19,-21.3],[287.0,-20.19,-23.67],[289.1,-20.00,-22.12],[291.2,-20.05,-21.2],[293.3,-20.10,-24.44],[295.4,-19.61,-21.74],[297.5,-19.30,-20.6],[299.6,-19.03,-20.19],[303.9,-18.84,-19.81],[308.1,-18.68,-19.46],[312.3,-18.61,-19.46],[316.5,-18.84,-19.61],[320.7,-19.13,-20.00],[325.0,-19.32,-20.39],[329.2,-19.61,-20.97],[333.4,-19.81,-21.74],[336.8,-20.00,-22.32],[339.7,-20.10,-22.41],[341.8,-19.90,-20.97],[346.1,-19.23,-20.10],[350.3,-18.84,-19.61],[354.5,-18.55,-19.23],[358.7,-18.41,-19.13],[364,-18.30,-19.20],[370,-18.42,-19.12],[376,-18.28,-19.25],[382,-18.40,-19.14],[388,-18.32,-19.22],[394,-18.44,-19.10],[400,-18.30,-19.23],[406,-18.41,-19.12],[412,-18.33,-19.24],[418,-18.45,-19.11],[424,-18.31,-19.22],[430,-18.40,-19.13],[436,-18.34,-19.25],[442,-18.43,-19.10],[448,-18.30,-19.22],[454,-18.41,-19.12],[460,-18.32,-19.24],[466,-18.44,-19.11],[472,-18.29,-19.23],[478,-18.40,-19.12],[484,-18.33,-19.25],[490,-18.42,-19.10],[496,-18.25,-19.22],[502,-18.38,-19.12],[508,-18.30,-19.26],[514,-18.41,-19.11],[520,-18.28,-19.23],[526,-18.40,-19.13],[532,-18.31,-19.25],[538,-18.43,-19.10],[544,-18.27,-19.22],[550,-18.39,-19.12],[556,-18.30,-19.26],[562,-18.42,-19.11],[568,-18.26,-19.23],[574,-18.38,-19.13],[580,-18.29,-19.25],[586,-18.41,-19.10],[592,-18.27,-19.22],[598,-18.39,-19.12],[604,-18.30,-19.26],[610,-18.42,-19.11],[616,-18.27,-19.24],[622,-18.38,-19.13],[628.3,-18.60,-19.30]];
const brGreenSpike = [[628.3,-18.9],[629.2,-18.0],[630.5,-12.0],[632.3,-5.1],[635.7,-1.6]];

// ---------- styling ----------
const BLUE = '#5E81B5', RED = '#FF0000', GREEN = '#8FB032', FRAME = '#666666';
const FONT = { fontFamily: 'Liberation Sans, Arial, sans-serif', fontWeight: 'bold', fontSize: 49, color: '#000' };

const panels = [
  { left: 123, top: 44, width: 1505, height: 904, xMin: 3.077, xMax: 6.349, yMin: -23.682, yMax: -14.304, xMaj: tlXTicks, xStep: 0.1, yMaj: tlYTicks, yStep: 0.5, xDec: 1 },
  { left: 1755, top: 44, width: 1503, height: 904, xMin: 1.91, xMax: 64.04, yMin: -23.725, yMax: -12.857, xMaj: trXTicks, xStep: 2, yMaj: trYTicks, yStep: 0.5, xDec: 0 },
  { left: 123, top: 1030, width: 1505, height: 903, xMin: -3.75, xMax: 192.4, yMin: -23.835, yMax: -9.206, xMaj: blXTicks, xStep: 10, yMaj: blYTicks, yStep: 0.5, xDec: 0 },
  { left: 1755, top: 1030, width: 1503, height: 903, xMin: -12.66, xMax: 648.4, yMin: -28.45, yMax: 23.87, xMaj: brXTicks, xStep: 20, yMaj: brYTicks, yStep: 2, xDec: 0 }
];

function minorTicks(min, max, step) {
  const out = [];
  for (let v = Math.ceil(min / step) * step; v < max; v += step) {
    const r = Math.round(v * 1000) / 1000;
    if (r > min && r < max) out.push(r);
  }
  return out;
}
function fmt(dec) {
  return function (v) { return (dec ? Number(v).toFixed(dec) : String(Math.round(v))).replace('-', '\u2212'); };
}

const grids = [], xAxes = [], yAxes = [];
panels.forEach(function (p, i) {
  grids.push({ left: p.left, top: p.top, width: p.width, height: p.height, show: true, borderColor: FRAME, borderWidth: 2, backgroundColor: 'transparent', containLabel: false, outerBoundsMode: 'none' });
  const xMinor = minorTicks(p.xMin, p.xMax, p.xStep);
  const yMinor = minorTicks(p.yMin, p.yMax, p.yStep);
  function ax(pos, values, len, labels, isX) {
    return {
      gridIndex: i, type: 'value', position: pos, min: isX ? p.xMin : p.yMin, max: isX ? p.xMax : p.yMax,
      axisLine: { show: false, onZero: false }, splitLine: { show: false }, minorTick: { show: false },
      axisTick: { show: true, inside: true, length: len, lineStyle: { color: FRAME, width: 2 }, customValues: values },
      axisLabel: labels ? Object.assign({ show: true, customValues: values, margin: isX ? 14 : 12, formatter: fmt(isX ? p.xDec : 0) }, FONT) : { show: false },
      silent: true, axisPointer: { show: false }
    };
  }
  xAxes.push(ax('bottom', p.xMaj, 15, true, true), ax('bottom', xMinor, 9, false, true), ax('top', p.xMaj, 15, false, true), ax('top', xMinor, 9, false, true));
  yAxes.push(ax('left', p.yMaj, 15, true, false), ax('left', yMinor, 9, false, false), ax('right', p.yMaj, 15, false, false), ax('right', yMinor, 9, false, false));
});

function line(i, data, color, width, smooth, extra) {
  return Object.assign({ type: 'line', xAxisIndex: 4 * i, yAxisIndex: 4 * i, data: data, showSymbol: false, symbol: 'none', smooth: smooth || false, clip: true, silent: true, animation: false, lineStyle: { color: color, width: width, join: 'round', cap: 'round' }, itemStyle: { color: color }, emphasis: { disabled: true } }, extra || {});
}
function band(i, data, color, edge) {
  return {
    type: 'custom', xAxisIndex: 4 * i, yAxisIndex: 4 * i, clip: true, silent: true, animation: false,
    data: [[data[0][0], data[0][1]]],
    renderItem: function (params, api) {
      const upper = data.map(function (d) { return api.coord([d[0], d[1]]); });
      const lower = data.map(function (d) { return api.coord([d[0], d[2]]); }).reverse();
      return { type: 'polygon', shape: { points: upper.concat(lower) }, style: { fill: color, stroke: color, lineWidth: edge, lineJoin: 'miter' } };
    }
  };
}

const series = [
  line(0, tlBlue, BLUE, 6, 0.35), line(0, tlRed, RED, 6, 0.35), line(0, tlGreen, GREEN, 6, 0.25),
  line(1, trBlue, BLUE, 7), line(1, trRed, RED, 6.5), line(1, trGreen, GREEN, 6),
  line(2, blBlue, BLUE, 7.5), band(2, blRedBand, RED, 3), line(2, blGreenEarly, GREEN, 5), band(2, blGreenBand, GREEN, 3),
  line(3, brBlue, BLUE, 7.5, false, { markLine: { silent: true, symbol: 'none', animation: false, label: { show: false }, lineStyle: { color: '#8c8c8c', width: 1.5, type: 'solid' }, data: [{ yAxis: 0 }] } }),
  band(3, brRedBand, RED, 4), line(3, brRedSpike, RED, 6),
  band(3, brGreenBand, GREEN, 3.5), line(3, brGreenSpike, GREEN, 6)
];

const chart = echarts.init(document.getElementById('c'), null, { renderer: 'canvas', width: 3288, height: 2020 });
chart.setOption({ animation: false, backgroundColor: '#ffffff', grid: grids, xAxis: xAxes, yAxis: yAxes, series: series });
</script></body></html>
